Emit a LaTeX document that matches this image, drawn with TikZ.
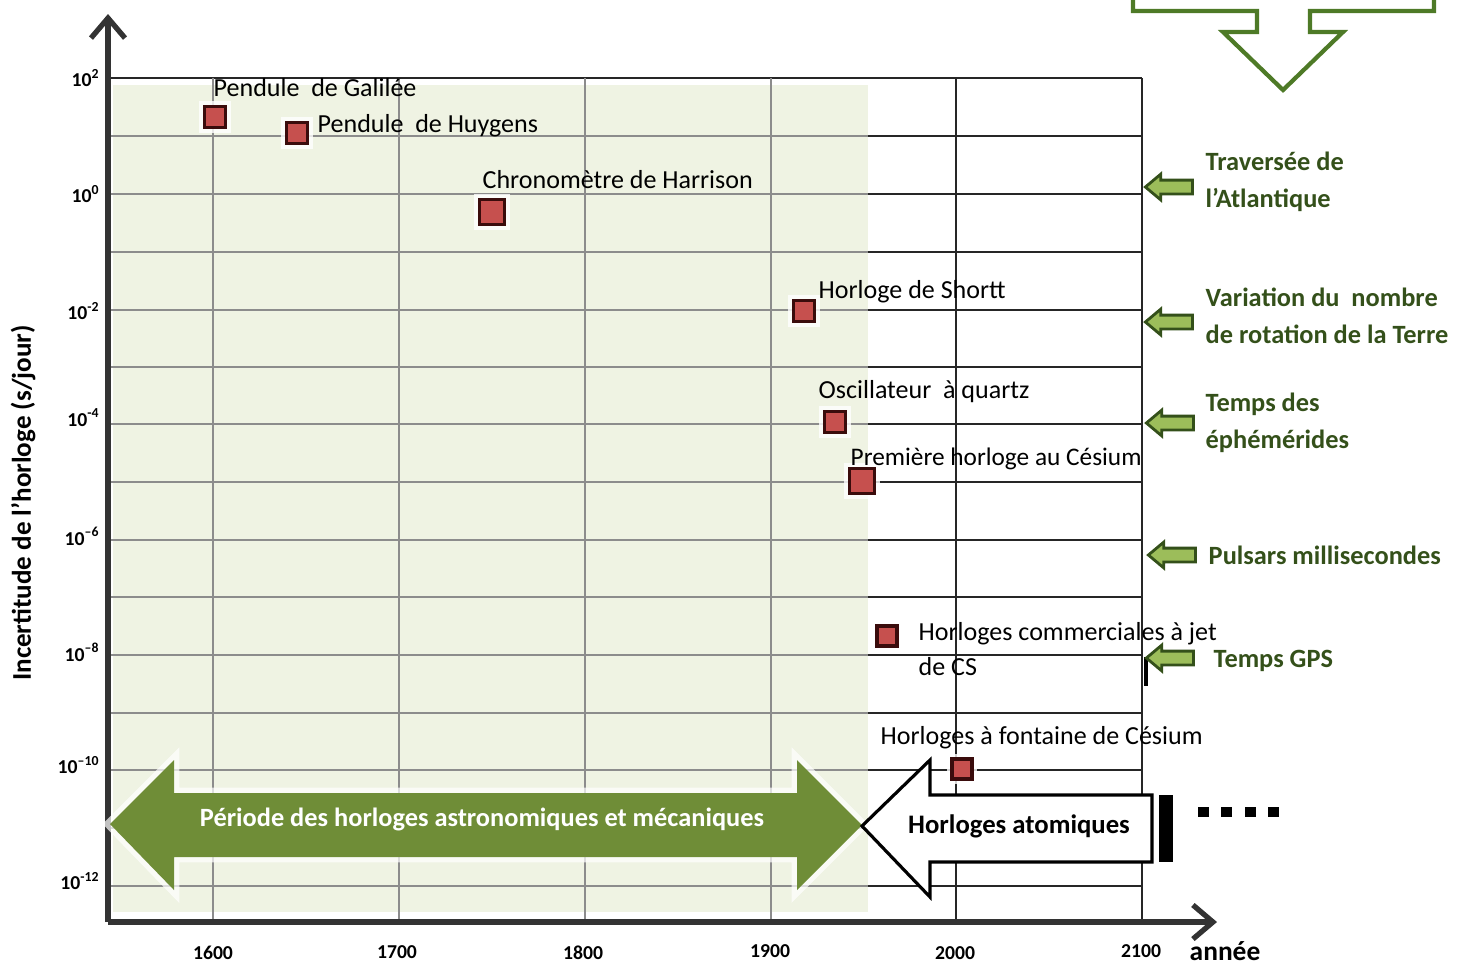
\documentclass[tikz,border=0pt]{standalone}
\usepackage{fontspec}
\setmainfont{Carlito}
\usetikzlibrary{arrows.meta,shapes.arrows}

\definecolor{clockred}{HTML}{C6504E}
\definecolor{clockedge}{HTML}{3A0C0C}
\definecolor{periodgreen}{HTML}{6F8D37}
\definecolor{shadegreen}{HTML}{EFF3E3}
\definecolor{notegreen}{HTML}{34501A}
\definecolor{tipgreen}{HTML}{9CBD5A}
\definecolor{framegreen}{HTML}{4E7A27}
\definecolor{axisgray}{HTML}{333333}
\definecolor{gridgray}{HTML}{8C8C8C}

\begin{document}
\begin{tikzpicture}[x=0.01cm, y=-0.01cm,
		clock/.style={rectangle, draw=clockedge, fill=clockred, line width=0.9pt, inner sep=0pt, minimum size=0.21cm, preaction={draw=white, line width=3pt, opacity=0.8}},
		bigclock/.style={clock, minimum size=0.25cm},
		txt/.style={font=\fontsize{7.4}{10.2}\selectfont, inner sep=0pt, anchor=west, align=left},
		note/.style={font=\fontsize{7.5}{10.5}\selectfont\bfseries, text=notegreen, inner sep=0pt, anchor=west, align=left},
		tick/.style={font=\fontsize{5.6}{6}\selectfont\bfseries, inner sep=0pt},
		pointer/.style={single arrow, shape border rotate=180, draw=notegreen, fill=tipgreen, line width=0.8pt, inner xsep=0pt, inner ysep=0.055cm, minimum height=0.47cm, single arrow head extend=0.06cm, single arrow tip angle=80},
		dot/.style={rectangle, fill=black, inner sep=0pt, minimum width=0.11cm, minimum height=0.1cm},
		light/.style={draw=gridgray, line width=0.5pt},
		dark/.style={draw=black!85, line width=0.6pt},
		axis/.style={draw=axisgray, line width=1.5pt, -{Straight Barb[length=0.2cm, width=0.34cm]}}]
				\useasboundingbox (0, 0) rectangle (1464, 963);

				\fill[shadegreen] (113, 85) rectangle (868, 912);

				\draw[dark] (108, 78) -- (1142, 78);
				\draw[light] (108, 136) -- (868, 136);	\draw[dark] (868, 136) -- (1142, 136);
				\draw[light] (108, 194) -- (868, 194);	\draw[dark] (868, 194) -- (1142, 194);
				\draw[light] (108, 252) -- (868, 252);	\draw[dark] (868, 252) -- (1142, 252);
				\draw[light] (108, 310) -- (868, 310);	\draw[dark] (868, 310) -- (1142, 310);
				\draw[light] (108, 367) -- (868, 367);	\draw[dark] (868, 367) -- (1142, 367);
				\draw[light] (108, 424) -- (868, 424);	\draw[dark] (868, 424) -- (1142, 424);
				\draw[light] (108, 482) -- (868, 482);	\draw[dark] (868, 482) -- (1142, 482);
				\draw[light] (108, 540) -- (868, 540);	\draw[dark] (868, 540) -- (1142, 540);
				\draw[light] (108, 597) -- (868, 597);	\draw[dark] (868, 597) -- (1142, 597);
				\draw[light] (108, 655) -- (868, 655);	\draw[dark] (868, 655) -- (1142, 655);
				\draw[light] (108, 713) -- (868, 713);	\draw[dark] (868, 713) -- (1142, 713);
				\draw[light] (108, 770) -- (868, 770);	\draw[dark] (868, 770) -- (1142, 770);
				\draw[light] (108, 828) -- (868, 828);	\draw[dark] (868, 828) -- (1142, 828);
				\draw[light] (108, 886) -- (868, 886);	\draw[dark] (868, 886) -- (1142, 886);

				\draw[light] (213, 78) -- (213, 922);
				\draw[light] (399, 78) -- (399, 922);
				\draw[light] (585, 78) -- (585, 922);
				\draw[light] (771, 78) -- (771, 922);
				\draw[dark] (956, 78) -- (956, 922);
				\draw[dark] (1142, 78) -- (1142, 922);
				\draw[black, line width=1pt] (1146, 657) -- (1146, 686);

				\coordinate (origin) at (108, 922);
				\coordinate (ytop) at (108, 14);
				\coordinate (xend) at (1217, 922);
				\draw[axis] (origin) -- (ytop);
				\draw[axis] (origin) -- (xend);

				\node[tick, anchor=east] (ytick0) at (101, 78) {10\textsuperscript{2}};
				\node[tick, anchor=east] (ytick1) at (101, 194) {10\textsuperscript{0}};
				\node[tick, anchor=east] (ytick2) at (101, 311) {10\textsuperscript{-2}};
				\node[tick, anchor=east] (ytick3) at (101, 418) {10\textsuperscript{-4}};
				\node[tick, anchor=east] (ytick4) at (101, 536) {10\textsuperscript{–6}};
				\node[tick, anchor=east] (ytick5) at (101, 652) {10\textsuperscript{–8}};
				\node[tick, anchor=east] (ytick6) at (101, 765) {10\textsuperscript{–10}};
				\node[tick, anchor=east] (ytick7) at (101, 881) {10\textsuperscript{-12}};

				\node[tick] (xtick0) at (213, 953) {1600};
				\node[tick] (xtick1) at (397, 952) {1700};
				\node[tick] (xtick2) at (583, 953) {1800};
				\node[tick] (xtick3) at (770, 951) {1900};
				\node[tick] (xtick4) at (955, 953) {2000};
				\node[tick] (xtick5) at (1141, 951) {2100};
				\node[font=\fontsize{7.8}{9}\selectfont\bfseries, inner sep=0pt] (xname) at (1225, 951) {année};
				\node[font=\fontsize{7.7}{9}\selectfont\bfseries, inner sep=0pt, rotate=90] (yname) at (23, 503) {Incertitude de l’horloge (s/jour)};

				\draw[framegreen, line width=1.2pt, fill=white, line join=miter] (1133, -10) -- (1133, 11) -- (1257, 11) -- (1257, 32) -- (1223, 32) -- (1283, 90) -- (1343, 32) -- (1310, 32) -- (1310, 11) -- (1434, 11) -- (1434, -10);

				\fill[periodgreen, preaction={draw=white, line width=3pt, opacity=0.7}] (110, 824) -- (174, 760) -- (174, 793) -- (797, 793) -- (797, 760) -- (862, 825) -- (797, 890) -- (797, 857) -- (174, 857) -- (174, 890) -- cycle;
				\node[font=\fontsize{7.5}{9}\selectfont\bfseries, text=white, inner sep=0pt] (period) at (482, 819) {Période des horloges astronomiques et mécaniques};

				\draw[black, line width=0.9pt, fill=white, line join=miter] (862, 826) -- (930, 760) -- (930, 795) -- (1152, 795) -- (1152, 862) -- (930, 862) -- (930, 897) -- cycle;
				\fill[black] (1159, 795) rectangle (1173, 862);
				\node[font=\fontsize{7.6}{9}\selectfont\bfseries, inner sep=0pt] (atomic) at (1019, 826) {Horloges atomiques};

				\node[dot] (dot0) at (1203, 812) {};
				\node[dot] (dot1) at (1226, 812) {};
				\node[dot] (dot2) at (1250, 812) {};
				\node[dot] (dot3) at (1273, 812) {};

				\node[clock] (clock0) at (215, 117) {};
				\node[clock] (clock1) at (297, 133) {};
				\node[bigclock] (clock2) at (492, 212) {};
				\node[clock] (clock3) at (804, 311) {};
				\node[clock] (clock4) at (835, 422) {};
				\node[bigclock] (clock5) at (862, 481) {};
				\node[clock, minimum size=0.2cm] (clock6) at (887, 636) {};
				\node[clock, minimum size=0.2cm] (clock7) at (962, 769) {};

				\node[txt] (label0) at (213, 88) {Pendule\ \ de Galilée};
				\node[txt] (label1) at (317, 126) {Pendule\ \ de Huygens};
				\node[txt] (label2) at (482, 180) {Chronomètre de Harrison};
				\node[txt] (label3) at (818, 292) {Horloge de Shortt};
				\node[txt] (label4) at (818, 392) {Oscillateur\ \ à quartz};
				\node[txt, font=\fontsize{7.2}{9}\selectfont] (label5) at (850, 459) {Première horloge au Césium};
				\node[txt] (label6) at (918, 649) {Horloges commerciales à jet\\de CS};
				\node[txt] (label7) at (880, 738) {Horloges à fontaine de Césium};

				\node[pointer] (tip0) at (1173, 187) {};
				\node[pointer] (tip1) at (1173, 322) {};
				\node[pointer] (tip2) at (1174, 423) {};
				\node[pointer] (tip3) at (1176, 555) {};
				\node[pointer] (tip4) at (1174, 658) {};

				\node[note] (note0) at (1205, 182) {Traversée de\\l’Atlantique};
				\node[note] (note1) at (1205, 316) {Variation du\ \ nombre\\de rotation de la Terre};
				\node[note] (note2) at (1205, 423) {Temps des\\éphémérides};
				\node[note] (note3) at (1208, 555) {Pulsars millisecondes};
				\node[note] (note4) at (1213, 661) {Temps GPS};
			\end{tikzpicture}
\end{document}
